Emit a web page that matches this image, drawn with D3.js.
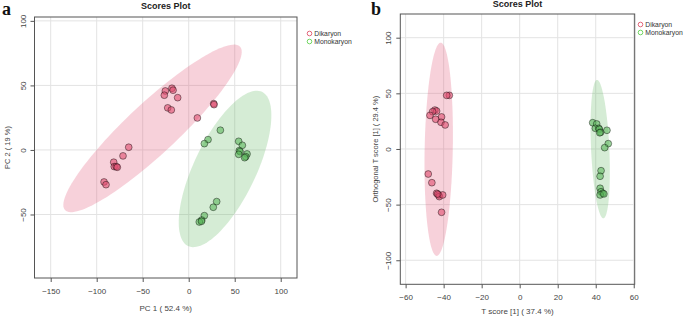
<!DOCTYPE html>
<html>
<head>
<meta charset="utf-8">
<script src="https://cdn.jsdelivr.net/npm/d3@7"></script>
<style>
  body { margin: 0; background: #fff; }
  svg { display: block; font-family: "Liberation Sans", Arial, sans-serif; }
  .tick text { fill: #444; font-size: 8px; }
  .tick line { stroke: #555; }
</style>
</head>
<body>
<div id="chart"></div>
<script>
// groups
const groups = ["Dikaryon", "Monokaryon"];
const groupColors = ["#DF536B", "#61D04F"];
const fillColors = ["#E04D70", "#5BB75B"];

// panel a: PCA scores [PC1, PC2]
const pcaDikaryon = [
  [-25.4, 45.7], [-26.5, 42.4], [-18.2, 47.8], [-17, 46.3], [-12, 40.5], [-22.8, 32.6],
  [-18.9, 31], [9.4, 24.8], [27.2, 35.9], [27.5, 35.1], [-65.2, 2.1], [-71.4, -4.6],
  [-81.5, -9.5], [-80.9, -12.9], [-78.7, -12.9], [-77.6, -13.4], [-92, -24.8], [-89.9, -26.9]
];
const pcaMonokaryon = [
  [34.4, 15.3], [21, 8], [17, 4.9], [54.3, 6.7], [58.3, 3.6], [55, -0.5], [55.8, -1.3],
  [54.3, -3.4], [63.4, -3.1], [62, -5.2], [60.8, -6], [30.4, -40], [26.7, -44.4],
  [17, -50.9], [14.1, -54.3], [11.5, -55.8], [13.9, -55.3]
];
// confidence ellipses: centre, semi-axis vectors (data units)
const pcaEllipses = [
  { c: [-39.3, 16.7], u: [95.1, 63.3], v: [18.8, -14.4] },
  { c: [39.5, -14.7], u: [40.2, 59.7], v: [30.3, -10.4] }
];
const pcaXTicks = [-150, -100, -50, 0, 50, 100];
const pcaYTicks = [-50, 0, 50, 100];

// panel b: OPLS-DA scores [T score, orthogonal T score]
const oplsDikaryon = [
  [-37, 48.2], [-38.4, 48.2], [-44.6, 35], [-43.7, 34.1], [-45.8, 33.5], [-47.2, 30.2],
  [-41.1, 28.8], [-44.2, 26.7], [-41.4, 24], [-39.2, 21.6], [-48.1, -22.5], [-46.2, -30.3],
  [-43.7, -39.8], [-42.6, -41.3], [-42.3, -42.8], [-40.5, -41.3], [-43.2, -40.5], [-41.1, -56.9]
];
const oplsMonokaryon = [
  [38.4, 23.6], [40.5, 22.5], [39.8, 18.6], [41.6, 18.6], [41.9, 17.7], [42.6, 15],
  [42.1, 14.6], [45.9, 16.8], [46.6, 4.8], [44.7, 1.2], [42.8, -19.5], [42.3, -24.5],
  [42.3, -35.3], [42.8, -38.4], [43.7, -39.8], [42.3, -41.3], [44.3, -40.4]
];
const oplsEllipses = [
  { c: [-42.6, -0.3], u: [1.05, 95.8], v: [7.4, 0] },
  { c: [42.35, -0.15], u: [-1.65, 62.15], v: [4.8, 0] }
];
const oplsXTicks = [-60, -40, -20, 0, 20, 40, 60];
const oplsYTicks = [-100, -50, 0, 50, 100];

const svg = d3.select('#chart')
  .append('svg')
  .attr('width', 685)
  .attr('height', 316);

function drawPanel(opt) {
  const x = d3.scaleLinear().domain(opt.xDomain).range([opt.box[0], opt.box[1]]);
  const y = d3.scaleLinear().domain(opt.yDomain).range([opt.box[3], opt.box[2]]);
  const g = svg.append('g');

  // grid
  g.selectAll('.vgrid').data(opt.xTicks).enter().append('line')
    .attr('x1', d => x(d)).attr('x2', d => x(d))
    .attr('y1', opt.box[2]).attr('y2', opt.box[3])
    .attr('stroke', '#e3e3e3').attr('stroke-width', 1);
  g.selectAll('.hgrid').data(opt.yTicks).enter().append('line')
    .attr('y1', d => y(d)).attr('y2', d => y(d))
    .attr('x1', opt.box[0]).attr('x2', opt.box[1])
    .attr('stroke', '#e3e3e3').attr('stroke-width', 1);

  // ellipses
  const ellLine = d3.line().x(d => x(d[0])).y(d => y(d[1])).curve(d3.curveLinearClosed);
  opt.ellipses.forEach((e, i) => {
    const pts = d3.range(0, 360, 3).map(a => {
      const t = a * Math.PI / 180;
      return [e.c[0] + Math.cos(t) * e.u[0] + Math.sin(t) * e.v[0],
              e.c[1] + Math.cos(t) * e.u[1] + Math.sin(t) * e.v[1]];
    });
    g.append('path').attr('d', ellLine(pts))
      .attr('fill', fillColors[i]).attr('fill-opacity', 0.26)
      .attr('stroke', 'none');
  });

  // points
  opt.series.forEach((s, i) => {
    g.selectAll('.pt' + i).data(s).enter().append('circle')
      .attr('cx', d => x(d[0])).attr('cy', d => y(d[1])).attr('r', 3.4)
      .attr('fill', fillColors[i]).attr('fill-opacity', 0.6)
      .attr('stroke', '#000').attr('stroke-opacity', 0.6).attr('stroke-width', 0.7);
  });

  // box
  g.append('rect')
    .attr('x', opt.box[0]).attr('y', opt.box[2])
    .attr('width', opt.box[1] - opt.box[0]).attr('height', opt.box[3] - opt.box[2])
    .attr('fill', 'none').attr('stroke', '#555').attr('stroke-width', 1);

  // axes
  const xa = g.append('g').attr('transform', `translate(0,${opt.box[3]})`)
    .call(d3.axisBottom(x).tickValues(opt.xTicks).tickSize(4).tickPadding(6).tickSizeOuter(0));
  xa.select('.domain').remove();
  const ya = g.append('g').attr('transform', `translate(${opt.box[0]},0)`)
    .call(d3.axisLeft(y).tickValues(opt.yTicks).tickSize(4).tickSizeOuter(0));
  ya.select('.domain').remove();
  ya.selectAll('.tick text')
    .attr('transform', 'rotate(-90)')
    .attr('x', 0).attr('y', -9).attr('dy', 0)
    .attr('text-anchor', 'middle');

  const cx = (opt.box[0] + opt.box[1]) / 2;
  const cy = (opt.box[2] + opt.box[3]) / 2;

  // titles
  g.append('text').attr('x', cx).attr('y', opt.titleY)
    .attr('text-anchor', 'middle').attr('font-size', 9).attr('font-weight', 'bold')
    .attr('fill', '#222').text('Scores Plot');
  g.append('text').attr('x', cx).attr('y', opt.xTitleY)
    .attr('text-anchor', 'middle').attr('font-size', 8).attr('fill', '#444').text(opt.xTitle);
  g.append('text')
    .attr('transform', `translate(${opt.yTitleX},${cy}) rotate(-90)`)
    .attr('text-anchor', 'middle').attr('font-size', 7.5).attr('fill', '#444').text(opt.yTitle);

  // panel letter
  g.append('text').attr('x', opt.letterX).attr('y', 15)
    .attr('font-family', '"Liberation Serif", "DejaVu Serif", serif')
    .attr('font-size', 18).attr('font-weight', 'bold').attr('fill', '#111').text(opt.letter);

  // legend
  groups.forEach((name, i) => {
    const ly = opt.legend[1] + i * 8;
    g.append('circle').attr('cx', opt.legend[0]).attr('cy', ly).attr('r', 2.3)
      .attr('fill', 'none').attr('stroke', groupColors[i]).attr('stroke-width', 0.9);
    g.append('text').attr('x', opt.legend[0] + 4.8).attr('y', ly + 2.4)
      .attr('font-size', 6.8).attr('fill', '#333').text(name);
  });
}

drawPanel({
  box: [34.5, 297, 17, 278],
  xDomain: [-167.6, 117.7], yDomain: [-99.2, 103],
  xTicks: pcaXTicks, yTicks: pcaYTicks,
  series: [pcaDikaryon, pcaMonokaryon], ellipses: pcaEllipses,
  xTitle: 'PC 1 ( 52.4 %)', yTitle: 'PC 2 ( 19 %)',
  titleY: 8.5, xTitleY: 311, yTitleX: 10,
  letter: 'a', letterX: 2, legend: [309.5, 33.5]
});

drawPanel({
  box: [400.3, 634.7, 14, 284.3],
  xDomain: [-62.8, 60.5], yDomain: [-121.6, 121.3],
  xTicks: oplsXTicks, yTicks: oplsYTicks,
  series: [oplsDikaryon, oplsMonokaryon], ellipses: oplsEllipses,
  xTitle: 'T score [1] ( 37.4 %)', yTitle: 'Orthogonal T score [1] ( 29.4 %)',
  titleY: 7, xTitleY: 314, yTitleX: 378,
  letter: 'b', letterX: 371, legend: [640.5, 24.5]
});
</script>
</body>
</html>
